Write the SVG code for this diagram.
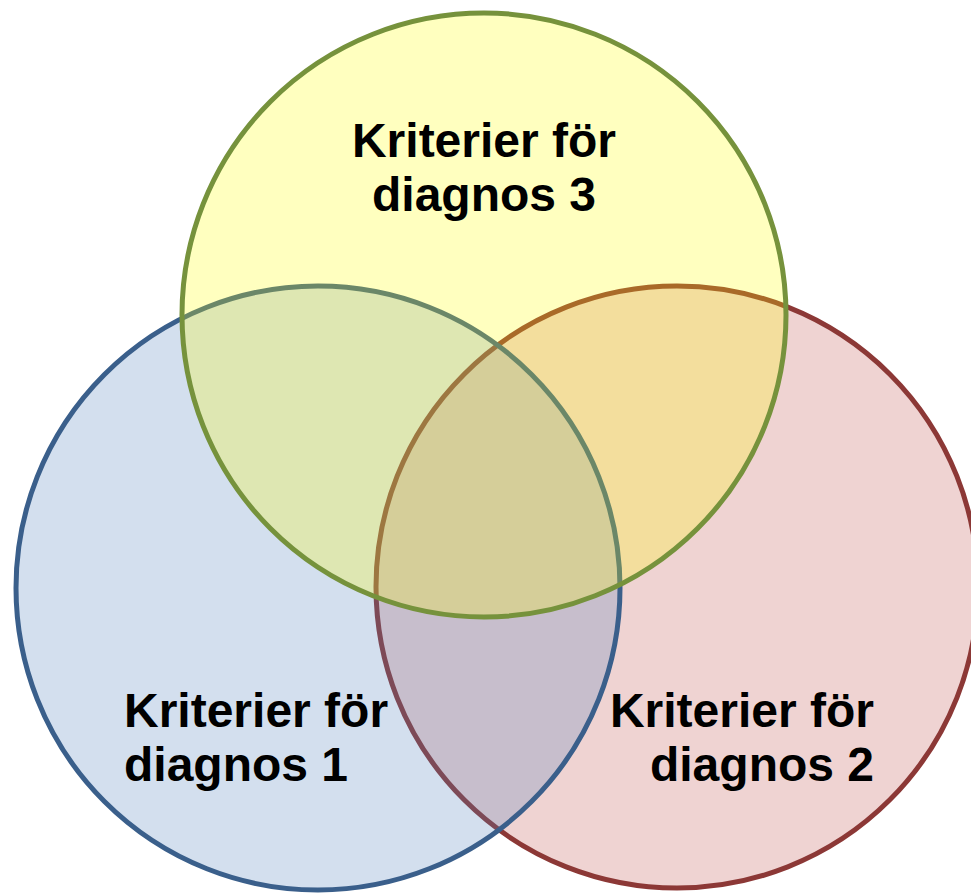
<svg xmlns="http://www.w3.org/2000/svg" width="971" height="895" viewBox="0 0 971 895">
  <style>
    .set { stroke-width: 5; fill-opacity: 0.25; }
    .label { font-family: "Liberation Sans", Arial, sans-serif; font-weight: bold; font-size: 48px; fill: #000; }
  </style>
  <rect width="971" height="895" fill="#ffffff"/>
  <!-- Three overlapping sets, painted red, blue, then yellow -->
  <g id="set-diagnos-2">
    <circle class="set" cx="677" cy="587" r="301" fill="#c0504d" stroke="#8c3836"/>
  </g>
  <g id="set-diagnos-1">
    <circle class="set" cx="318" cy="588" r="302" fill="#4f81bd" stroke="#3a5f8b"/>
  </g>
  <g id="set-diagnos-3">
    <circle class="set" cx="484" cy="315" r="302" fill="#ffff00" stroke="#76923c"/>
  </g>
  <!-- Set captions -->
  <g id="label-diagnos-3">
    <text class="label" x="484" y="157" text-anchor="middle">Kriterier för</text>
    <text class="label" x="484" y="211" text-anchor="middle">diagnos 3</text>
  </g>
  <g id="label-diagnos-1">
    <text class="label" x="124" y="727">Kriterier för</text>
    <text class="label" x="124" y="781">diagnos 1</text>
  </g>
  <g id="label-diagnos-2">
    <text class="label" x="874" y="727" text-anchor="end">Kriterier för</text>
    <text class="label" x="874" y="781" text-anchor="end">diagnos 2</text>
  </g>
</svg>
